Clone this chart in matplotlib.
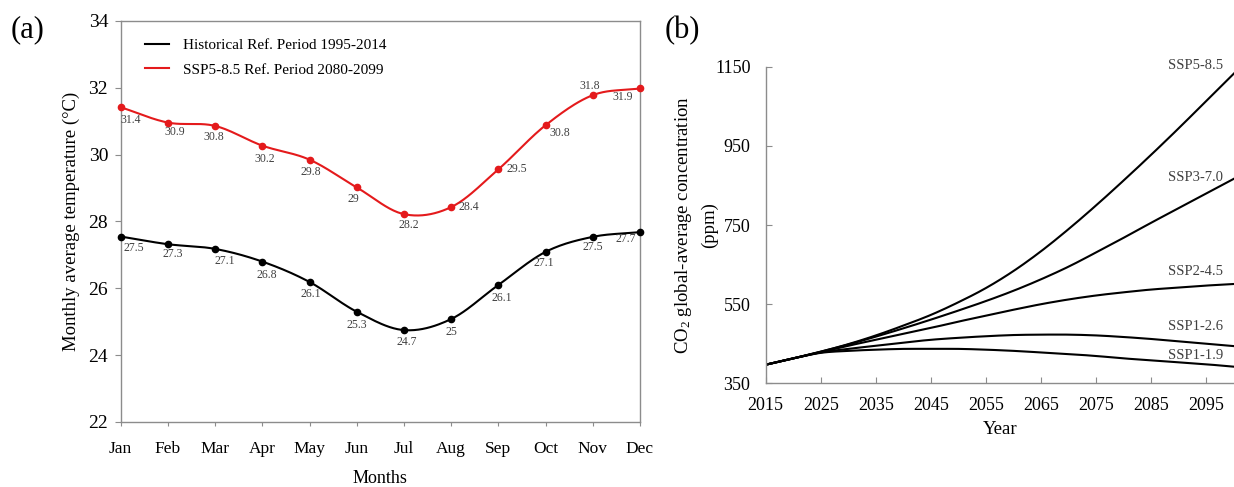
import numpy as np
import matplotlib
matplotlib.use('Agg')
import matplotlib.pyplot as plt

plt.rcParams['font.family'] = ['Liberation Serif', 'DejaVu Serif']
plt.rcParams['mathtext.default'] = 'regular'

### PANEL (a) DATA
months = ['Jan', 'Feb', 'Mar', 'Apr', 'May', 'Jun', 'Jul', 'Aug', 'Sep', 'Oct', 'Nov', 'Dec']
hist_temp = [27.55, 27.32, 27.18, 26.80, 26.19, 25.30, 24.75, 25.08, 26.10, 27.09, 27.54, 27.68]
hist_labels = ['27.5', '27.3', '27.1', '26.8', '26.1', '25.3', '24.7', '25', '26.1', '27.1', '27.5', '27.7']
ssp_temp = [31.42, 30.96, 30.86, 30.27, 29.85, 29.02, 28.22, 28.43, 29.56, 30.88, 31.78, 31.98]
ssp_labels = ['31.4', '30.9', '30.8', '30.2', '29.8', '29', '28.2', '28.4', '29.5', '30.8', '31.8', '31.9']

### PANEL (b) DATA
years = [2015, 2020, 2025, 2030, 2035, 2040, 2045, 2050, 2055, 2060, 2065, 2070, 2075, 2080, 2085, 2090, 2095, 2100]
ssp585 = [397, 413, 430, 449, 471, 496, 523, 555, 591, 634, 684, 740, 800, 863, 928, 995, 1064, 1133]
ssp370 = [397, 413, 430, 448, 468, 489, 511, 534, 558, 584, 613, 645, 681, 718, 756, 793, 830, 867]
ssp245 = [397, 413, 429, 445, 460, 475, 490, 506, 521, 536, 550, 562, 572, 580, 587, 592, 597, 601]
ssp126 = [397, 413, 428, 437, 445, 453, 460, 465, 469, 472, 473, 473, 471, 467, 462, 456, 450, 444]
ssp119 = [397, 413, 427, 432, 435, 437, 437, 437, 435, 432, 428, 424, 419, 413, 408, 403, 398, 392]
scen_names = ['SSP5-8.5', 'SSP3-7.0', 'SSP2-4.5', 'SSP1-2.6', 'SSP1-1.9']
scen_label_y = [1154, 870, 632, 493, 421]

# label offsets in pixels (right, down)
hist_off = [(13, 11), (5, 10), (10, 12), (5, 13), (1, 12), (0, 13), (3, 12), (0, 13), (3, 13), (-2, 11), (0, 10), (-14, 7)]
ssp_off = [(10, 13), (7, 9), (-1, 11), (2, 13), (1, 12), (-3, 12), (5, 11), (18, 0), (18, 0), (14, 8), (-3, -9), (-17, 9)]

GRAY = '#8c8c8c'
RED = '#e41a1c'


def smooth(x, y, n=24):
    # bezier curve through points, excel-style smoothed line
    x = np.asarray(x, float)
    y = np.asarray(y, float)
    px = np.concatenate([[2 * x[0] - x[1]], x, [2 * x[-1] - x[-2]]])
    py = np.concatenate([[2 * y[0] - y[1]], y, [2 * y[-1] - y[-2]]])
    t = np.linspace(0, 1, n)[:, None]
    out = []
    for i in range(1, len(px) - 2):
        p0 = np.array([px[i - 1], py[i - 1]])
        p1 = np.array([px[i], py[i]])
        p2 = np.array([px[i + 1], py[i + 1]])
        p3 = np.array([px[i + 2], py[i + 2]])
        c1 = p1 + (p2 - p0) / 6
        c2 = p2 - (p3 - p1) / 6
        seg = (1 - t) ** 3 * p1 + 3 * (1 - t) ** 2 * t * c1 + 3 * (1 - t) * t ** 2 * c2 + t ** 3 * p2
        out.append(seg if i == 1 else seg[1:])
    out = np.vstack(out)
    return out[:, 0], out[:, 1]


fig = plt.figure(figsize=(12.34, 4.87), dpi=100)

### PANEL (a)
ax1 = fig.add_axes([0.0978, 0.1335, 0.4208, 0.8234])
xm = np.arange(len(months))
for vals, labs, offs, col, name in [(hist_temp, hist_labels, hist_off, 'black', 'Historical Ref. Period 1995-2014'),
                                     (ssp_temp, ssp_labels, ssp_off, RED, 'SSP5-8.5 Ref. Period 2080-2099')]:
    sx, sy = smooth(xm, vals)
    ax1.plot(sx, sy, color=col, lw=1.5, label=name, clip_on=False)
    ax1.plot(xm, vals, 'o', color=col, ms=4.5, clip_on=False, zorder=3)
    for xi, v, lab, (dx, dy) in zip(xm, vals, labs, offs):
        ax1.annotate(lab, (xi, v), xytext=(dx, -dy), textcoords='offset pixels',
                     ha='center', va='center', fontsize=8.5, color='#404040')

ax1.set_xlim(0, 11)
ax1.set_ylim(22, 34)
ax1.set_yticks(np.arange(22, 35, 2))
ax1.set_xticks(xm)
ax1.set_xticklabels(months)
for s in ax1.spines.values():
    s.set_color(GRAY)
    s.set_linewidth(1.0)
ax1.tick_params(axis='y', direction='out', length=4, color=GRAY, labelsize=14, pad=5)
ax1.tick_params(axis='x', direction='out', length=3, color=GRAY, labelsize=12.5, pad=11)
ax1.set_ylabel('Monthly average temperature (°C)', fontsize=13.5, labelpad=6)
ax1.set_xlabel('Months', fontsize=13, labelpad=9)
ax1.legend(loc='upper left', bbox_to_anchor=(0.02, 0.99), frameon=False, fontsize=11,
           handlelength=1.6, handletextpad=0.9, labelspacing=0.7)

### PANEL (b)
ax2 = fig.add_axes([0.6205, 0.2129, 0.3795, 0.6501])
for vals, name, ly in zip([ssp585, ssp370, ssp245, ssp126, ssp119], scen_names, scen_label_y):
    sx, sy = smooth(years, vals, n=12)
    ax2.plot(sx, sy, color='black', lw=1.5)
    ax2.text(2093.1, ly, name, ha='center', va='center', fontsize=10.5, color='#404040')

ax2.set_xlim(2015, 2100)
ax2.set_ylim(350, 1150)
ax2.set_xticks(np.arange(2015, 2100, 10))
ax2.set_yticks([350, 550, 750, 950, 1150])
ax2.spines['top'].set_visible(False)
ax2.spines['right'].set_visible(False)
for s in ['left', 'bottom']:
    ax2.spines[s].set_color(GRAY)
    ax2.spines[s].set_linewidth(1.0)
ax2.tick_params(axis='both', direction='in', length=4.5, color=GRAY, labelsize=13)
ax2.tick_params(axis='y', pad=11)
ax2.tick_params(axis='x', pad=10)
ax2.set_xlabel('Year', fontsize=13.5, labelpad=5)
ax2.set_ylabel('CO$_2$ global-average concentration\n(ppm)', fontsize=13.5, labelpad=-2,
               multialignment='center', linespacing=1.45)

fig.text(0.022, 0.938, '(a)', fontsize=22, ha='center', va='center')
fig.text(0.553, 0.938, '(b)', fontsize=22, ha='center', va='center')

fig.savefig('out.png', dpi=100)
